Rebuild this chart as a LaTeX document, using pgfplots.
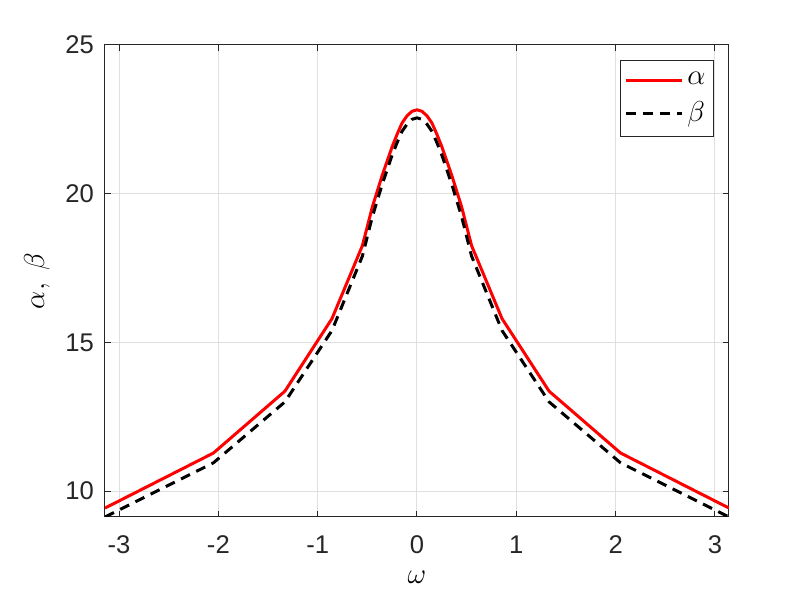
\documentclass[border=0pt]{standalone}
\usepackage{fontspec}
\setmainfont{Liberation Sans}
\usepackage{pgfplots}
\pgfplotsset{compat=1.18}
\definecolor{axgray}{HTML}{262626}
\definecolor{gridgray}{HTML}{DFDFDF}
\begin{document}
\begin{tikzpicture}
\begin{axis}[
  scale only axis,
  width=312pt, height=236pt,
  xmin=-3.14159, xmax=3.14159,
  ymin=9.13, ymax=25,
  xtick={-3,-2,-1,0,1,2,3},
  ytick={10,15,20,25},
  tick align=inside,
  major tick length=3pt,
  axis line style={axgray, line width=0.5pt},
  tick style={axgray, line width=0.5pt},
  grid=major,
  major grid style={gridgray, line width=0.5pt},
  /pgf/number format/assume math mode=true,
  tick label style={font=\fontsize{12.8}{15}\selectfont, text=axgray},
  xticklabel style={yshift=-6pt},
  yticklabel style={xshift=-2pt},
  xlabel={$\omega$},
  ylabel={$\alpha,\ \beta$},
  label style={font=\fontsize{14}{16}\selectfont},
  xlabel style={at={(rel axis cs:0.5,0)}, anchor=center, yshift=-30pt},
  ylabel style={at={([xshift=-34pt]rel axis cs:0,0.5)}, anchor=center},
  legend style={at={(1,1)}, anchor=north east, xshift=-7.5pt, yshift=-7.5pt,
    draw=axgray, line width=0.5pt, font=\fontsize{14}{16}\selectfont,
    inner xsep=2pt, inner ysep=4pt, row sep=3pt},
  legend cell align=left,
  legend image code/.code={\draw[#1] (0pt,0pt) -- (28pt,0pt);},
]
\coordinate (ll) at (rel axis cs:0,0);
\coordinate (ur) at (rel axis cs:1,1);
\addplot[red, line width=1.5pt] table {
x y
-3.14159 9.43
-2.05 11.28
-1.33 13.36
-0.856 15.8
-0.55 18.25
-0.45 19.55
-0.35 20.62
-0.25 21.58
-0.2 22.0
-0.15 22.38
-0.1 22.62
-0.05 22.77
0 22.82
0.05 22.77
0.1 22.62
0.15 22.38
0.2 22.0
0.25 21.58
0.35 20.62
0.45 19.55
0.55 18.25
0.856 15.8
1.33 13.36
2.05 11.28
3.14159 9.43
};
\addlegendentry{$\alpha$}
\addplot[black, line width=1.5pt, dash pattern=on 5pt off 3.5pt] table {
x y
-3.14159 9.13
-2.05 10.95
-1.33 13.0
-0.856 15.4
-0.55 17.9
-0.45 19.22
-0.35 20.32
-0.25 21.3
-0.2 21.72
-0.15 22.1
-0.1 22.34
-0.05 22.5
0 22.55
0.05 22.5
0.1 22.34
0.15 22.1
0.2 21.72
0.25 21.3
0.35 20.32
0.45 19.22
0.55 17.9
0.856 15.4
1.33 13.0
2.05 10.95
3.14159 9.13
};
\addlegendentry{$\beta$}
\end{axis}
\path ([shift={(-52.5pt,-43.5pt)}]ll) rectangle ([shift={(38.5pt,22.5pt)}]ur);
\end{tikzpicture}
\end{document}
